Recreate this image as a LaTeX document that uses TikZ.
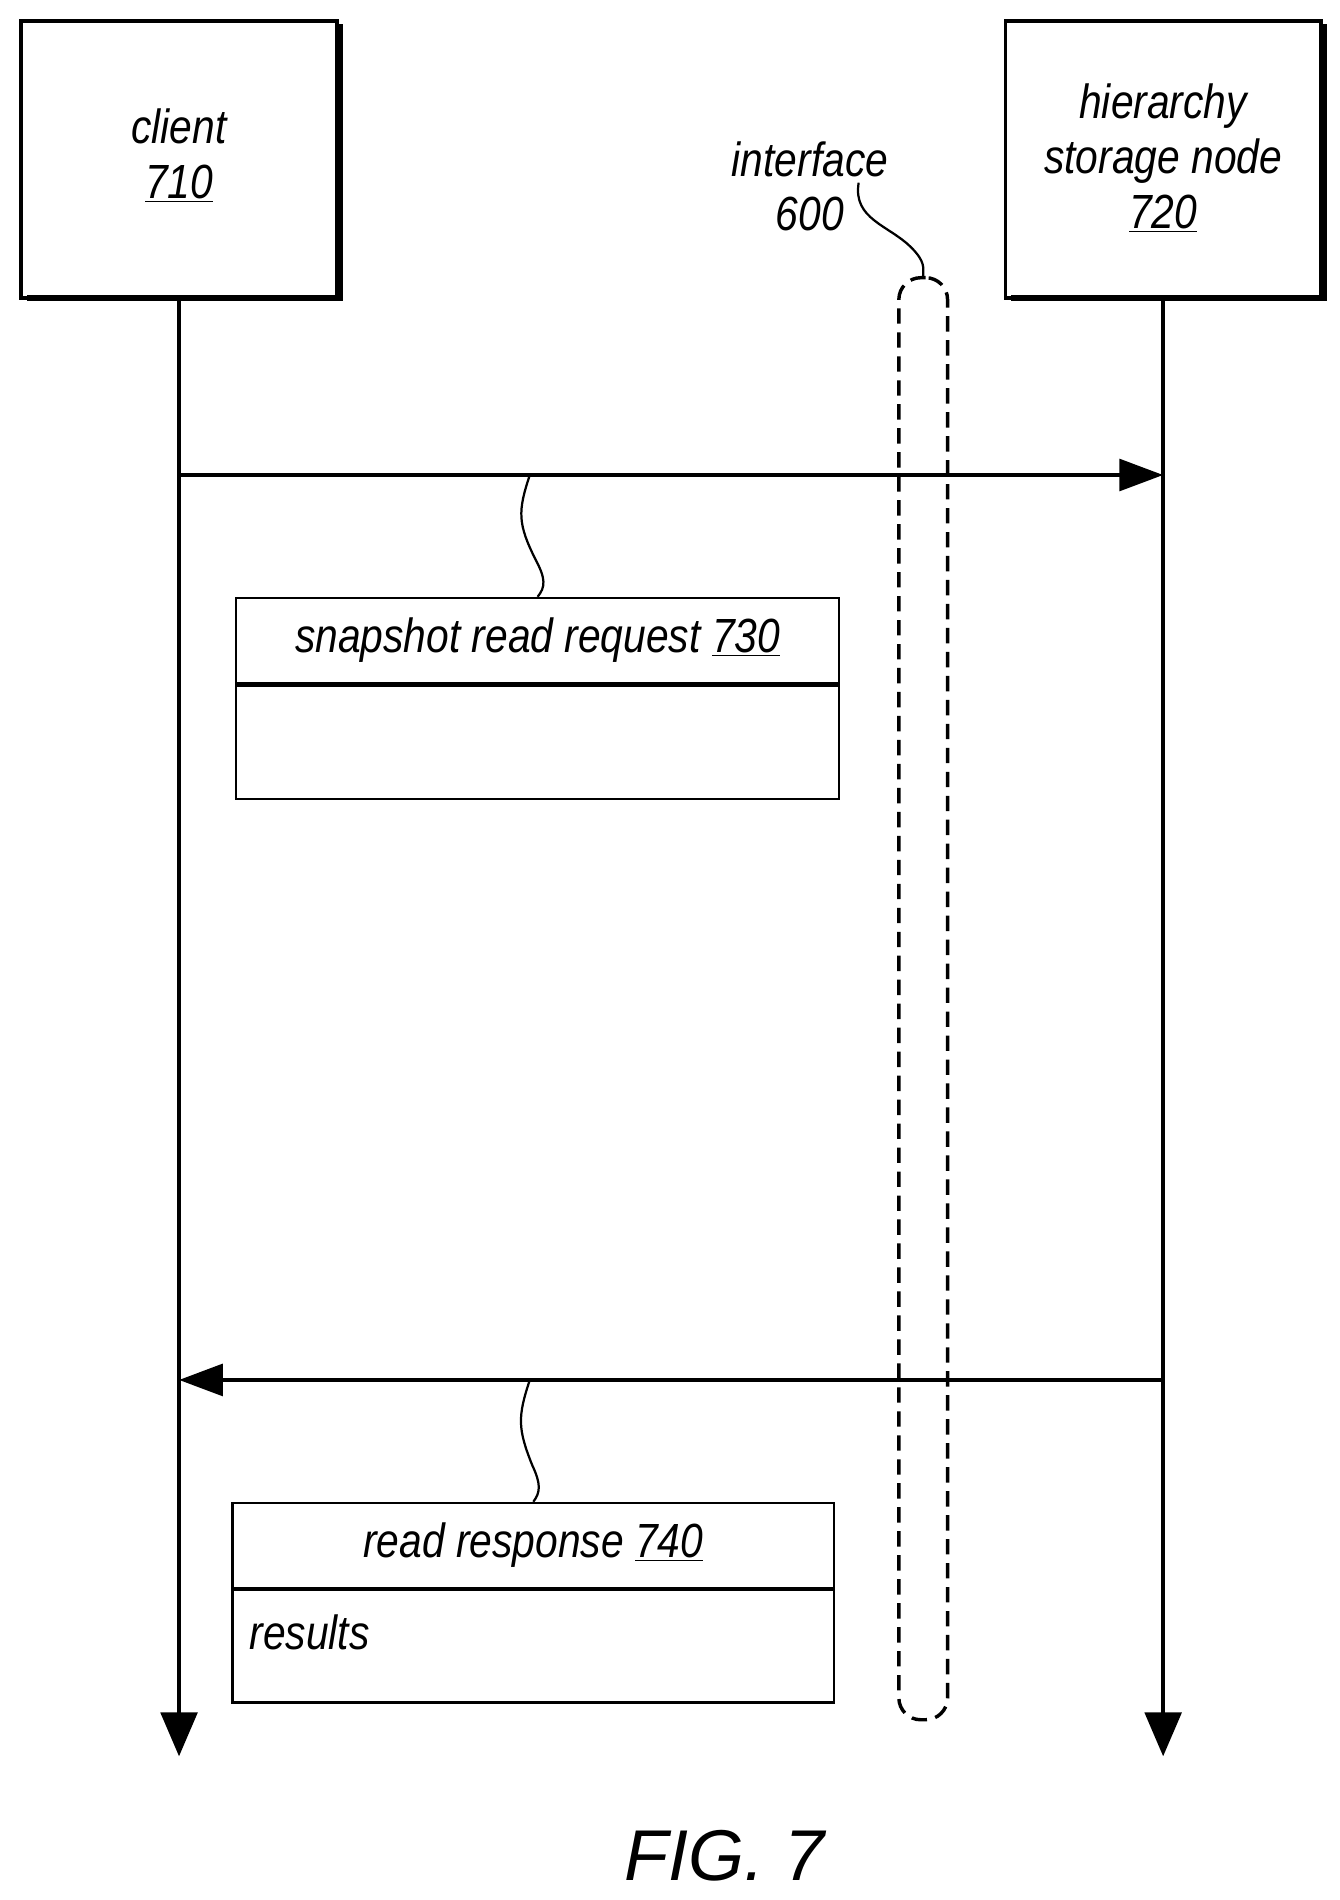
\documentclass[tikz,border=0pt]{standalone}
\usepackage{fontspec}
\setmainfont{Liberation Sans}[FakeStretch=0.85]
\newfontfamily\figfont{Liberation Sans}
\usetikzlibrary{arrows.meta}
\begin{document}
\begin{tikzpicture}[x=0.025cm,y=-0.025cm,
  lbl/.style={font=\fontsize{28}{34}\selectfont\itshape,align=center},
  ent/.style={draw,line width=2.2pt,minimum width=259*0.025cm,minimum height=227*0.025cm,inner sep=0pt},
  shadow/.style={line width=3.5pt},
  life/.style={line width=2.2pt,-{Triangle[length=0.9cm,width=0.75cm]}},
  msg/.style={line width=2.4pt,-{Triangle[length=0.9cm,width=0.65cm]}},
  rec/.style={draw,line width=1.3pt},
  sq/.style={line width=1.3pt}]
\useasboundingbox (0,0) rectangle (1100,1560);
\node[ent] (client) at (147,131) {};
\node[ent] (hsn) at (955,131) {};
\draw[shadow] (22,245) -- (279,245) -- (279,20);
\draw[shadow] (830,245) -- (1087,245) -- (1087,20);
\node[lbl] at (147,128) {client\\[-2pt]\underline{710}};
\node[lbl] at (955,130) {hierarchy\\[-2pt]storage node\\[-2pt]\underline{720}};
\coordinate (cend) at (147,1442);
\coordinate (hend) at (955,1442);
\draw[life] (client.south) -- (cend);
\draw[life] (hsn.south) -- (hend);
\coordinate (r1) at (147,390); \coordinate (r2) at (955,390);
\coordinate (s1) at (147,1133); \coordinate (s2) at (955,1133);
\draw[msg] (r1) -- (r2);
\draw[msg] (s2) -- (s1);
% interface capsule
\node[draw,line width=2pt,rounded corners=0.45cm,minimum width=40*0.025cm,minimum height=1184*0.025cm,inner sep=0pt,dash pattern=on 9pt off 5pt] (iface) at (758,820) {};
\node[lbl] (ilab) at (665,153) {interface\\[-2pt]600};
\draw[sq] (705,150) .. controls (700,180) and (730,185) .. (748,203) .. controls (760,215) and (758,220) .. (iface.north);
% request box
\node[rec,minimum width=495*0.025cm,minimum height=70*0.025cm,inner sep=0pt,anchor=north west] (req) at (193,490) {};
\node[lbl] at (req.center) {snapshot read request \underline{730}};
\node[rec,minimum width=495*0.025cm,minimum height=93*0.025cm,inner sep=0pt,anchor=north west] (reqb) at (req.south west) {};
\draw[sq] (435,390) .. controls (425,420) and (425,430) .. (440,460) .. controls (448,475) and (448,482) .. (req.north);
% response box
\node[rec,minimum width=494*0.025cm,minimum height=70*0.025cm,inner sep=0pt,anchor=north west] (res) at (190,1233) {};
\node[lbl] at (res.center) {read response \underline{740}};
\node[rec,minimum width=494*0.025cm,minimum height=92*0.025cm,inner sep=0pt,anchor=north west] (resb) at (res.south west) {};
\node[lbl,anchor=west] at (200,1340) {results};
\draw[sq] (435,1133) .. controls (425,1163) and (425,1173) .. (437,1203) .. controls (444,1218) and (444,1225) .. (res.north);
\node[font=\figfont\fontsize{42}{46}\selectfont\itshape] at (595,1524) {FIG. 7};
\end{tikzpicture}
\end{document}
